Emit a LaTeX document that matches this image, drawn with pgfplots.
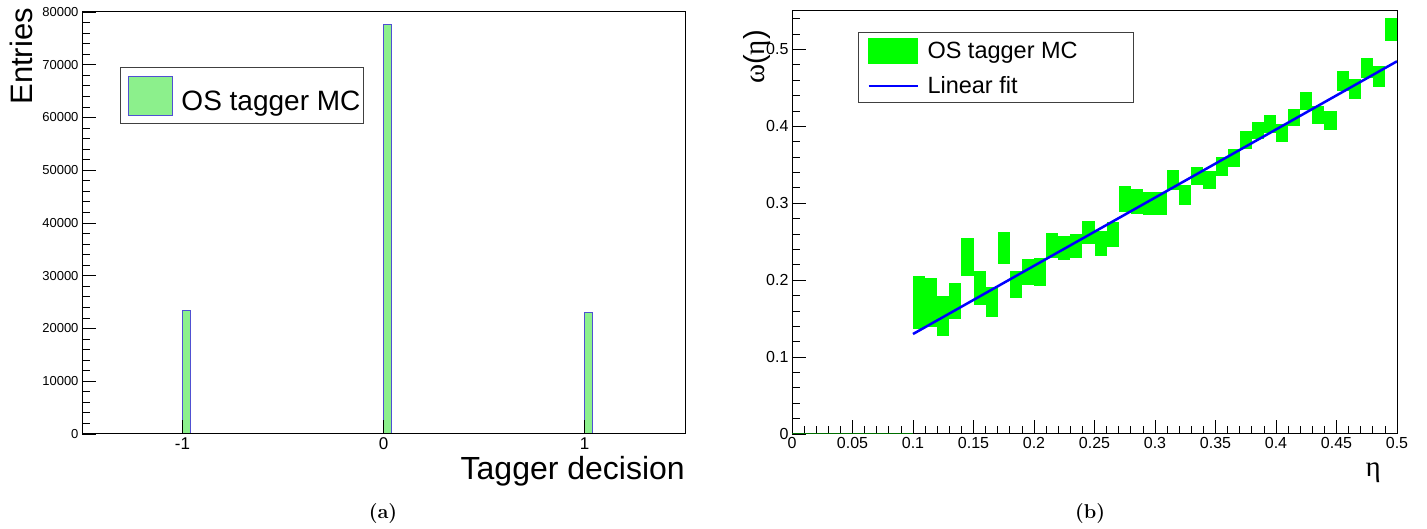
\documentclass[border=0pt]{standalone}
\usepackage{pgfplots}
\pgfplotsset{compat=1.18}
\usepackage{pgfplotstable}
\usepackage{fontspec}
\newfontfamily\arial{Liberation Sans}
\newfontfamily\greekserif{Liberation Serif}

\definecolor{histfill}{RGB}{140,240,140}
\definecolor{histline}{RGB}{80,80,210}
\definecolor{boxgreen}{RGB}{0,255,0}
\definecolor{fitblue}{RGB}{0,0,255}
\definecolor{emptygreen}{RGB}{0,110,0}

% Tagger decision histogram: bin low edge, entries
\pgfplotstableread{
x  entries
-1 23450
0  77540
1  22940
}\decisions

% Mistag fraction per eta bin: bin centre, omega, half-height of the error box
\pgfplotstableread{
eta   omega  err
0.105 0.171  0.034
0.115 0.171  0.032
0.125 0.153  0.026
0.135 0.173  0.023
0.145 0.230  0.025
0.155 0.190  0.022
0.165 0.1715 0.0195
0.175 0.2418 0.021
0.185 0.1944 0.018
0.195 0.211  0.017
0.205 0.211  0.018
0.215 0.245  0.016
0.225 0.242  0.016
0.235 0.2446 0.016
0.245 0.262  0.015
0.255 0.2476 0.016
0.265 0.2596 0.016
0.275 0.306  0.017
0.285 0.302  0.016
0.295 0.2997 0.015
0.305 0.2997 0.0145
0.315 0.330  0.013
0.325 0.311  0.013
0.335 0.3355 0.012
0.345 0.330  0.012
0.355 0.348  0.012
0.365 0.3585 0.0117
0.375 0.382  0.0117
0.385 0.3947 0.0115
0.395 0.4035 0.0115
0.405 0.391  0.0115
0.415 0.4117 0.0115
0.425 0.4334 0.0115
0.435 0.415  0.0113
0.445 0.408  0.0124
0.455 0.459  0.0124
0.465 0.4488 0.013
0.475 0.476  0.013
0.485 0.4646 0.0137
0.495 0.5256 0.0148
}\mistag

\begin{document}
\begin{tikzpicture}
\useasboundingbox (0,0) rectangle (1427pt,529pt);
\pgfplotsset{
  rootframe/.style={
    scale only axis, tick pos=left, tick align=inside,
    axis line style={line width=1pt},
    every tick/.style={black, line width=0.8pt},
    major tick length=14pt, minor tick length=8pt,
    /pgf/number format/assume math mode=true,
    scaled ticks=false,
    legend cell align=left,
  },
}

% (a) tagger decision
\begin{axis}[rootframe, axis on top,
  at={(82pt,95pt)}, anchor=south west,
  width=603pt, height=422pt,
  xmin=-1.5, xmax=1.5, ymin=0, ymax=80000,
  xtick={-1,0,1}, xticklabels={-1,0,1},
  ytick={0,10000,20000,30000,40000,50000,60000,70000,80000},
  minor y tick num=4,
  yticklabel style={font=\arial\fontsize{13}{13}\selectfont,
    /pgf/number format/.cd, fixed, 1000 sep={}},
  xticklabel style={font=\arial\fontsize{17}{17}\selectfont},
  ylabel={Entries},
  ylabel style={at={([xshift=-50pt,yshift=4pt]axis description cs:0,1)},
    anchor=base east, inner sep=0pt, font=\arial\fontsize{31}{31}\selectfont},
  xlabel={Tagger decision},
  xlabel style={at={([yshift=-46pt]axis description cs:1,0)},
    anchor=base east, inner sep=0pt, font=\arial\fontsize{32}{32}\selectfont},
  legend style={at={(0.063,0.8697)}, anchor=north west,
    inner xsep=0pt, inner ysep=0pt, draw=black!75, line width=1pt,
    column sep=0pt, row sep=0pt,
    nodes={inner sep=0pt, text depth=0.15em},
    font=\arial\fontsize{28}{28}\selectfont},
]
\addlegendimage{legend image code/.code={
  \path[draw=none, fill=none] (0pt,-22pt) rectangle (61pt,34pt);
  \filldraw[fill=histfill, draw=histline, line width=1.2pt] (8pt,-14pt) rectangle (52pt,25pt);}}
\addlegendentry{\makebox[182pt][l]{OS tagger MC}}
\addplot[forget plot, ybar, bar width=0.04, bar shift=0.02,
  fill=histfill, draw=histline, line width=1pt]
  table[x=x, y=entries]{\decisions};
\end{axis}

% (b) mistag fraction versus eta
\begin{axis}[rootframe,
  at={(792pt,95pt)}, anchor=south west,
  width=605pt, height=423pt,
  xmin=0, xmax=0.5, ymin=0, ymax=0.55,
  xtick={0,0.05,0.1,0.15,0.2,0.25,0.3,0.35,0.4,0.45,0.5},
  ytick={0,0.1,0.2,0.3,0.4,0.5,0.6},
  minor x tick num=4, minor y tick num=4,
  tick label style={font=\arial\fontsize{16}{16}\selectfont},
  xticklabel style={/pgf/number format/.cd, fixed, precision=2},
  yticklabel style={/pgf/number format/.cd, fixed, precision=2},
  ylabel={{\greekserif ω}({\greekserif η})},
  ylabel style={at={([xshift=-28pt,yshift=-19pt]axis description cs:0,1)},
    anchor=base east, inner sep=0pt, font=\arial\fontsize{29}{29}\selectfont},
  xlabel={\greekserif η},
  xlabel style={at={([xshift=-16pt,yshift=-43pt]axis description cs:1,0)},
    anchor=base east, inner sep=0pt, font=\fontsize{29}{29}\selectfont},
  legend style={at={(0.1091,0.9504)}, anchor=north west,
    inner xsep=0pt, inner ysep=0pt, draw=black!75, line width=1pt,
    column sep=0pt, row sep=0pt,
    nodes={inner sep=0pt, text depth=0.15em},
    font=\arial\fontsize{23.5}{23.5}\selectfont},
]
\addlegendimage{legend image code/.code={
  \path[draw=none, fill=none] (0pt,-16.5pt) rectangle (69pt,18.5pt);
  \fill[boxgreen] (10pt,-12.5pt) rectangle (59pt,12.5pt);}}
\addlegendentry{\makebox[206pt][l]{OS tagger MC}}
% empty bins below eta = 0.1
\addplot[forget plot, emptygreen, line width=1.5pt] coordinates {(0,0) (0.1,0)};
% error boxes, one bin (0.01) wide
\addplot[forget plot, draw=none, mark=none,
  error bars/.cd, y dir=both, y explicit, error mark=none,
  error bar style={draw=boxgreen, line width=12.1pt, line cap=butt}]
  table[x=eta, y=omega, y error=err]{\mistag};
\addplot[fitblue, line width=2.5pt,
  legend image code/.code={
    \path[draw=none, fill=none] (0pt,-16.5pt) rectangle (69pt,18.5pt);
    \draw[fitblue, line width=2pt] (10pt,0pt) -- (59pt,0pt);}]
  coordinates {(0.1,0.130) (0.5,0.4846)};
\addlegendentry{\makebox[206pt][l]{Linear fit}}
\end{axis}

\node[anchor=base, font=\bfseries\fontsize{20}{20}\selectfont] at (383pt,10pt) {(a)};
\node[anchor=base, font=\bfseries\fontsize{20}{20}\selectfont] at (1090pt,10pt) {(b)};
\end{tikzpicture}
\end{document}
